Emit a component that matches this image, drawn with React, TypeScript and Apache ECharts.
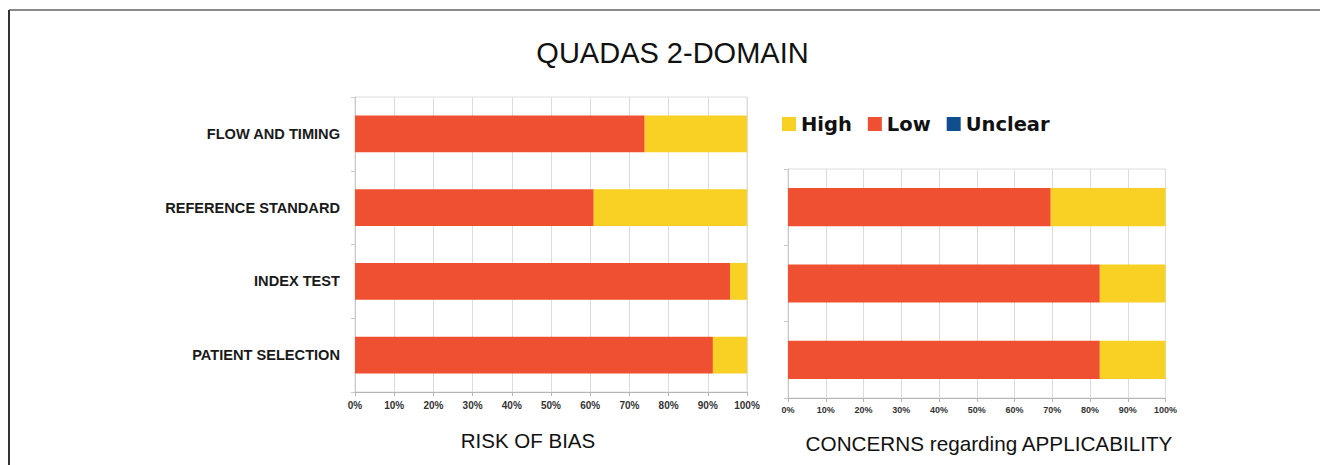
import React, { useEffect, useRef } from "react";
import * as echarts from "echarts";

const riskCategories = ["PATIENT SELECTION", "INDEX TEST", "REFERENCE STANDARD", "FLOW AND TIMING"];
const riskLow = [91.3, 95.7, 60.9, 73.9];
const riskHigh = [8.7, 4.3, 39.1, 26.1];
const riskUnclear = [0, 0, 0, 0];

const applicCategories = ["PATIENT SELECTION", "INDEX TEST", "REFERENCE STANDARD"];
const applicLow = [82.6, 82.6, 69.6];
const applicHigh = [17.4, 17.4, 30.4];
const applicUnclear = [0, 0, 0];

const legendNames = ["High", "Low", "Unclear"];
const COLORS = { High: "#F9D125", Low: "#EE5031", Unclear: "#114E8E" };

export default function App() {
  const ref = useRef<HTMLDivElement>(null);
  useEffect(() => {
    document.body.style.margin = "0";
    if (!ref.current) return;
    const chart = echarts.init(ref.current, null, { renderer: "svg" });
    const FONT = "Liberation Sans, Arial, sans-serif";
    const xAxisBase = (gridIndex: number, fontSize: number, margin: number) => ({
      type: "value",
      gridIndex,
      min: 0,
      max: 100,
      interval: 10,
      axisLabel: {
        formatter: "{value}%",
        fontFamily: FONT,
        fontWeight: "bold",
        fontSize,
        color: "#333",
        margin,
      },
      axisLine: { show: true, lineStyle: { color: "#b5b5b5", width: 1 } },
      axisTick: { show: true, length: 4, lineStyle: { color: "#b5b5b5" } },
      splitLine: { show: true, lineStyle: { color: "#dcdcdc", width: 1 } },
    });
    const yAxisBase = (gridIndex: number, data: string[], showLabel: boolean) => ({
      type: "category",
      gridIndex,
      data,
      axisLabel: {
        show: showLabel,
        fontFamily: FONT,
        fontWeight: "bold",
        fontSize: 14.6,
        color: "#1a1a1a",
        margin: 15,
        padding: [3, 0, 0, 0],
      },
      axisLine: { show: true, lineStyle: { color: "#c8c8c8", width: 1 } },
      axisTick: { show: true, length: 4, lineStyle: { color: "#c8c8c8" } },
      splitLine: { show: false },
    });
    const barSeries = (name: string, data: number[], idx: number, stack: string) => ({
      name,
      type: "bar",
      stack,
      xAxisIndex: idx,
      yAxisIndex: idx,
      data,
      barCategoryGap: "50%",
      itemStyle: { color: (COLORS as any)[name] },
    });
    chart.setOption({
      animation: false,
      backgroundColor: "#fff",
      legend: {
        data: legendNames,
        left: 777,
        top: 109,
        itemWidth: 14,
        itemHeight: 14,
        itemGap: 16,
        icon: "rect",
        textStyle: {
          fontFamily: "DejaVu Sans, Verdana, sans-serif",
          fontWeight: "bold",
          fontSize: 19.5,
          color: "#111",
        },
      },
      grid: [
        { left: 355, top: 97, width: 392, height: 295, show: true, borderColor: "#dcdcdc", borderWidth: 1 },
        { left: 788, top: 169, width: 377.5, height: 229, show: true, borderColor: "#dcdcdc", borderWidth: 1 },
      ],
      xAxis: [xAxisBase(0, 10, 8), xAxisBase(1, 9, 7)],
      yAxis: [yAxisBase(0, riskCategories, true), yAxisBase(1, applicCategories, false)],
      series: [
        barSeries("Low", riskLow, 0, "risk"),
        barSeries("High", riskHigh, 0, "risk"),
        barSeries("Unclear", riskUnclear, 0, "risk"),
        barSeries("Low", applicLow, 1, "applic"),
        barSeries("High", applicHigh, 1, "applic"),
        barSeries("Unclear", applicUnclear, 1, "applic"),
      ],
      graphic: [
        { type: "line", shape: { x1: 9, y1: 10, x2: 1320, y2: 10 }, style: { stroke: "#8a8a8a", lineWidth: 2 } },
        { type: "line", shape: { x1: 9, y1: 10, x2: 9, y2: 465 }, style: { stroke: "#333", lineWidth: 2 } },
        {
          type: "text",
          x: 672.5,
          y: 53,
          style: { text: "QUADAS 2-DOMAIN", fontFamily: FONT, fontSize: 29, fill: "#111", textAlign: "center", textVerticalAlign: "middle" },
        },
        {
          type: "text",
          x: 528,
          y: 440,
          style: { text: "RISK OF BIAS", fontFamily: FONT, fontSize: 20.5, fill: "#111", textAlign: "center", textVerticalAlign: "middle" },
        },
        {
          type: "text",
          x: 989,
          y: 443,
          style: { text: "CONCERNS regarding APPLICABILITY", fontFamily: FONT, fontSize: 20.7, fill: "#111", textAlign: "center", textVerticalAlign: "middle" },
        },
      ],
    });
    return () => chart.dispose();
  }, []);
  return <div ref={ref} style={{ width: 1320, height: 465 }} />;
}
